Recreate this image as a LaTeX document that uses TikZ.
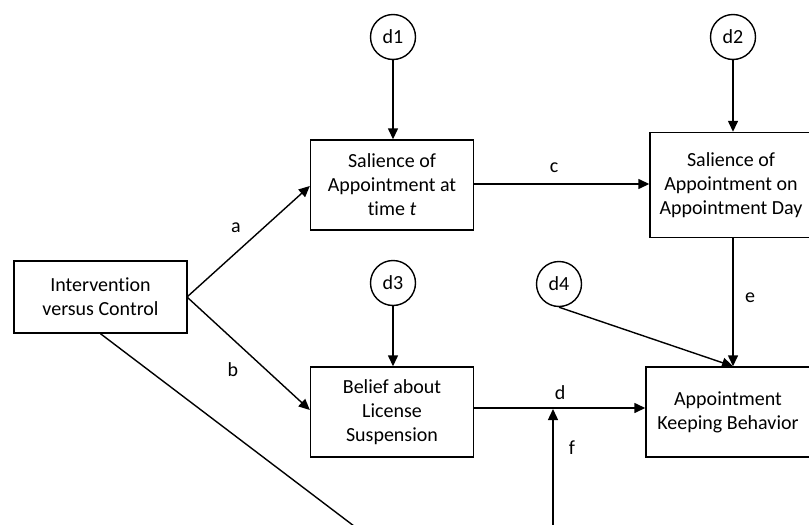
\documentclass[tikz,border=0pt]{standalone}
\usepackage{fontspec}
\setmainfont{Carlito}[Ligatures=NoCommon]
\usetikzlibrary{arrows.meta}
\tikzset{
  box/.style={draw, line width=1.4pt, rectangle, align=center, inner sep=0pt, font=\fontsize{20}{24}\selectfont},
  circ/.style={draw, line width=1.4pt, circle, minimum size=45pt, inner sep=0pt, font=\fontsize{20}{24}\selectfont},
  arr/.style={line width=1.4pt, -{Triangle[length=11pt, width=10pt]}},
  ln/.style={line width=1.4pt},
  lab/.style={font=\fontsize{20}{24}\selectfont}
}
\begin{document}
\begin{tikzpicture}[x=1pt, y=-1pt]
\useasboundingbox (0,0) rectangle (809,525);
\clip (0,0) rectangle (809,525);
\node[box, minimum width=173pt, minimum height=72pt] (iv) at (100.5,297) {Intervention\\versus Control};
\node[box, minimum width=163pt, minimum height=90pt] (st) at (392,185) {Salience of\\Appointment at\\time \textit{t}};
\node[box, minimum width=163pt, minimum height=90pt] (bl) at (392,412) {Belief about\\License\\Suspension};
\node[box, minimum width=162pt, minimum height=105pt] (sd) at (731,185) {Salience of\\Appointment on\\Appointment Day};
\node[box, minimum width=164pt, minimum height=90pt] (ak) at (728,412) {Appointment\\Keeping Behavior};
\node[circ] (d1) at (393,37) {d1};
\node[circ] (d2) at (733,37) {d2};
\node[circ] (d3) at (393,283) {d3};
\node[circ] (d4) at (559,284) {d4};
\coordinate (ivr) at (187,297);
\coordinate (corner) at (553,677);
\draw[arr] (d1) -- (st.north -| d1);
\draw[arr] (d2) -- (sd.north -| d2);
\draw[arr] (d3) -- (bl.north -| d3);
\draw[arr] (d4.south) -- (ak.north -| d2);
\draw[arr] (sd.south -| d2) -- (ak.north -| d2);
\draw[arr] (ivr) -- (st.west |- 0,186);
\draw[arr] (ivr) -- (bl.west |- 0,410);
\draw[arr] (st.east |- 0,184) -- (sd.west |- 0,184);
\draw[arr] (bl.east |- 0,408) -- (ak.west |- 0,408);
\draw[ln] (iv.south) -- (corner);
\draw[arr] (corner) -- (553,409);
\node[lab] (la) at (236,228) {a};
\node[lab] (lb) at (233,370) {b};
\node[lab] (lc) at (554,168) {c};
\node[lab] (ld) at (560,393) {d};
\node[lab] (le) at (750,298) {e};
\node[lab] (lf) at (572,448) {f};
\end{tikzpicture}
\end{document}
